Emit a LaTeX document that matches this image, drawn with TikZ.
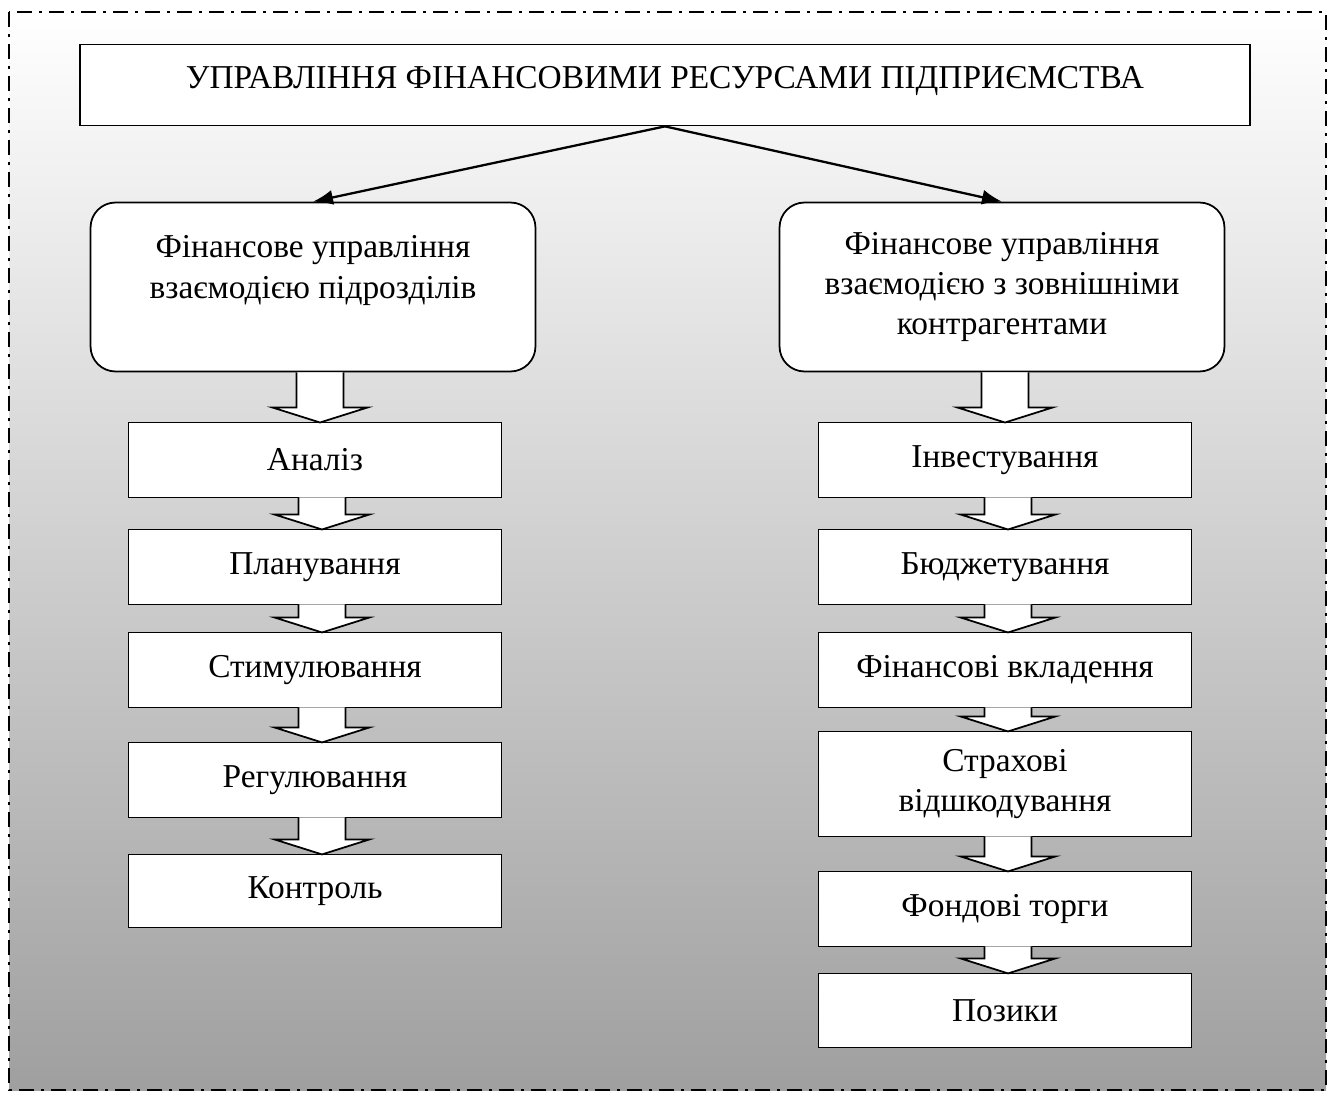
\documentclass[tikz,border=0pt]{standalone}
\usepackage{fontspec}
\setmainfont{Liberation Serif}
\usetikzlibrary{positioning,calc,arrows.meta}

% hollow block arrow between two stacked boxes
\newcommand{\flowarrow}[3][0cm]{%
  \draw[hollow] let \p1=($(#2.south)+(#1,0)$), \p2=(#3.north) in
    (\x1-0.47cm,\y1) -- (\x1-0.47cm,\y2+0.3cm) -- (\x1-0.95cm,\y2+0.3cm)
    -- (\x1,\y2) -- (\x1+0.95cm,\y2+0.3cm) -- (\x1+0.47cm,\y2+0.3cm)
    -- (\x1+0.47cm,\y1);}

\begin{document}
\begin{tikzpicture}[
  x=0.02cm, y=-0.02cm,
  boxfont/.style={font=\fontsize{19}{22.8}\selectfont},
  stage/.style={rectangle, draw, fill=white, line width=1pt, outer sep=0pt,
    minimum width=7.46cm, minimum height=1.5cm, align=center, boxfont},
  branch/.style={rectangle, rounded corners=0.5cm, draw, fill=white, line width=1pt,
    minimum width=8.9cm, minimum height=3.38cm, align=center, boxfont},
  hollow/.style={draw, fill=white, line width=1pt},
  frame/.style={line width=1.6pt, dash pattern=on 0.3cm off 0.14cm on 0.06cm off 0.14cm}
]
\useasboundingbox (0,0) rectangle (1332,1095);
\shade[top color=white, bottom color=gray!75] (9,12) rectangle (1326,1090);
\draw[frame] (9,12) rectangle (1326,1090);

\node[rectangle, draw, fill=white, line width=1pt, minimum width=23.4cm, minimum height=1.62cm,
  text depth=0.3cm, boxfont] (title) at (665,85) {УПРАВЛІННЯ ФІНАНСОВИМИ РЕСУРСАМИ ПІДПРИЄМСТВА};

\node[branch] (inner) at (313,287) {Фінансове управління\\взаємодією підрозділів\\\mbox{}};
\node[branch] (outer) at (1002,287) {Фінансове управління\\взаємодією з зовнішніми\\контрагентами};

% left column
\node[stage] (analysis) at (315,460) {Аналіз};
\node[stage, below=0.64cm of analysis] (planning) {Планування};
\node[stage, below=0.56cm of planning] (motivation) {Стимулювання};
\node[stage, below=0.7cm of motivation] (regulation) {Регулювання};
\node[stage, below=0.74cm of regulation, minimum height=1.46cm] (control) {Контроль};

% right column
\node[stage] (invest) at (1005,460) {Інвестування};
\node[stage, below=0.64cm of invest] (budget) {Бюджетування};
\node[stage, below=0.56cm of budget] (deposits) {Фінансові вкладення};
\node[stage, below=0.48cm of deposits, minimum height=2.1cm] (insurance) {Страхові\\відшкодування};
\node[stage, below=0.7cm of insurance] (stock) {Фондові торги};
\node[stage, below=0.54cm of stock, minimum height=1.48cm] (loans) {Позики};

% branches
\draw[-{Latex[length=0.4cm,width=0.3cm]}, line width=1.3pt] (title.south) -- (inner.north);
\draw[-{Latex[length=0.4cm,width=0.3cm]}, line width=1.3pt] (title.south) -- (outer.north);

% block arrows
\flowarrow[0.14cm]{inner}{analysis}
\flowarrow[0.14cm]{analysis}{planning}
\flowarrow[0.14cm]{planning}{motivation}
\flowarrow[0.14cm]{motivation}{regulation}
\flowarrow[0.14cm]{regulation}{control}
\flowarrow[0.06cm]{outer}{invest}
\flowarrow[0.06cm]{invest}{budget}
\flowarrow[0.06cm]{budget}{deposits}
\flowarrow[0.06cm]{deposits}{insurance}
\flowarrow[0.06cm]{insurance}{stock}
\flowarrow[0.06cm]{stock}{loans}
\end{tikzpicture}
\end{document}
